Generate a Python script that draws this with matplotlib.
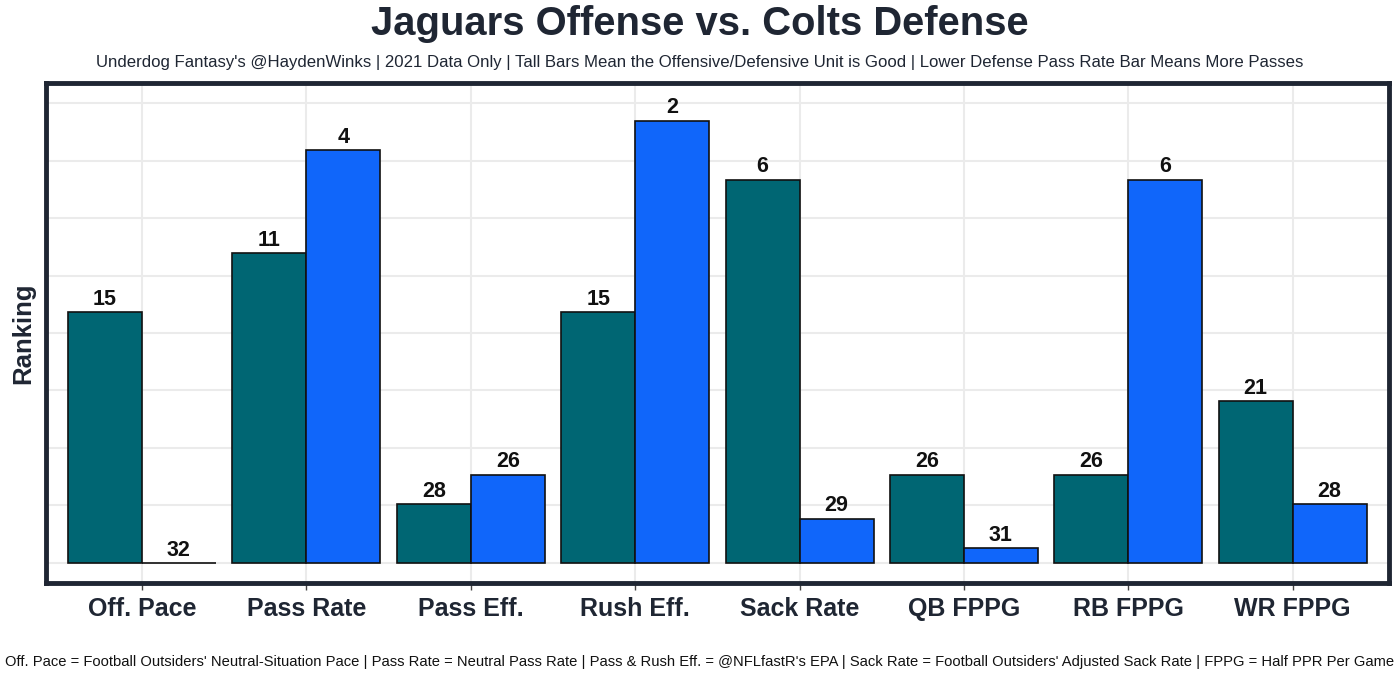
import matplotlib
matplotlib.use("Agg")
import matplotlib.pyplot as plt
import numpy as np

plt.rcParams['font.family'] = ['Liberation Sans', 'DejaVu Sans']

categories = ["Off. Pace", "Pass Rate", "Pass Eff.", "Rush Eff.", "Sack Rate",
              "QB FPPG", "RB FPPG", "WR FPPG"]
offense_rank = [15, 11, 28, 15, 6, 26, 26, 21]
defense_rank = [32, 4, 26, 2, 29, 31, 6, 28]

TEAL = "#006673"
BLUE = "#1066FA"
DARK = "#1f2633"

def to_height(r):
    return (32 - np.asarray(r, dtype=float)) / 31.2 * 100

fig = plt.figure(figsize=(14, 6.79), dpi=100)
W, H = 1400, 679
left, right, top, bottom = 45.5, 1388.7, 83, 583
ax = fig.add_axes([left / W, 1 - bottom / H, (right - left) / W, (bottom - top) / H])

x = np.arange(len(categories))
bw = 0.45
off_h = to_height(offense_rank)
def_h = to_height(defense_rank)

ax.bar(x - bw / 2, off_h, width=bw, color=TEAL, edgecolor="#111111", linewidth=1.2, zorder=3)
ax.bar(x + bw / 2, def_h, width=bw, color=BLUE, edgecolor="#111111", linewidth=1.2, zorder=3)

for xi, h, r in zip(x - bw / 2, off_h, offense_rank):
    ax.text(xi, h + 0.5, str(r), ha="center", va="bottom", fontsize=15.5,
            fontweight="bold", color="#111111", zorder=4)
for xi, h, r in zip(x + bw / 2, def_h, defense_rank):
    ax.text(xi, h + 0.5, str(r), ha="center", va="bottom", fontsize=15.5,
            fontweight="bold", color="#111111", zorder=4)

ax.set_xlim(-0.587, 7.584)
ax.set_ylim(-4.35, 104.35)
ax.set_yticks(np.arange(0, 100.1, 12.5))
ax.set_yticklabels([])
ax.tick_params(axis="y", length=0)
ax.set_xticks(x)
ax.set_xticklabels(categories, fontsize=18, fontweight="bold", color=DARK)
ax.tick_params(axis="x", length=5, width=1, color="#444444", pad=5)
ax.grid(True, color="#EBEBEB", linewidth=1.5, zorder=0)
ax.set_axisbelow(True)
for s in ax.spines.values():
    s.set_linewidth(3.5)
    s.set_color(DARK)

ax.set_ylabel("Ranking", fontsize=18.5, fontweight="bold", color=DARK, labelpad=4)

fig.text(0.5, 1 - 24 / H, "Jaguars Offense vs. Colts Defense", ha="center", va="center",
         fontsize=28.8, fontweight="bold", color=DARK)
fig.text(0.5, 1 - 62 / H,
         "Underdog Fantasy's @HaydenWinks | 2021 Data Only | Tall Bars Mean the Offensive/Defensive Unit is Good | Lower Defense Pass Rate Bar Means More Passes",
         ha="center", va="center", fontsize=12.1, color=DARK)
fig.text(0.5, 1 - 662 / H,
         "Off. Pace = Football Outsiders' Neutral-Situation Pace | Pass Rate = Neutral Pass Rate | Pass & Rush Eff. = @NFLfastR's EPA | Sack Rate = Football Outsiders' Adjusted Sack Rate | FPPG = Half PPR Per Game",
         ha="center", va="center", fontsize=10.65, color="#111111")

fig.savefig("out.png", dpi=100, facecolor="white")
